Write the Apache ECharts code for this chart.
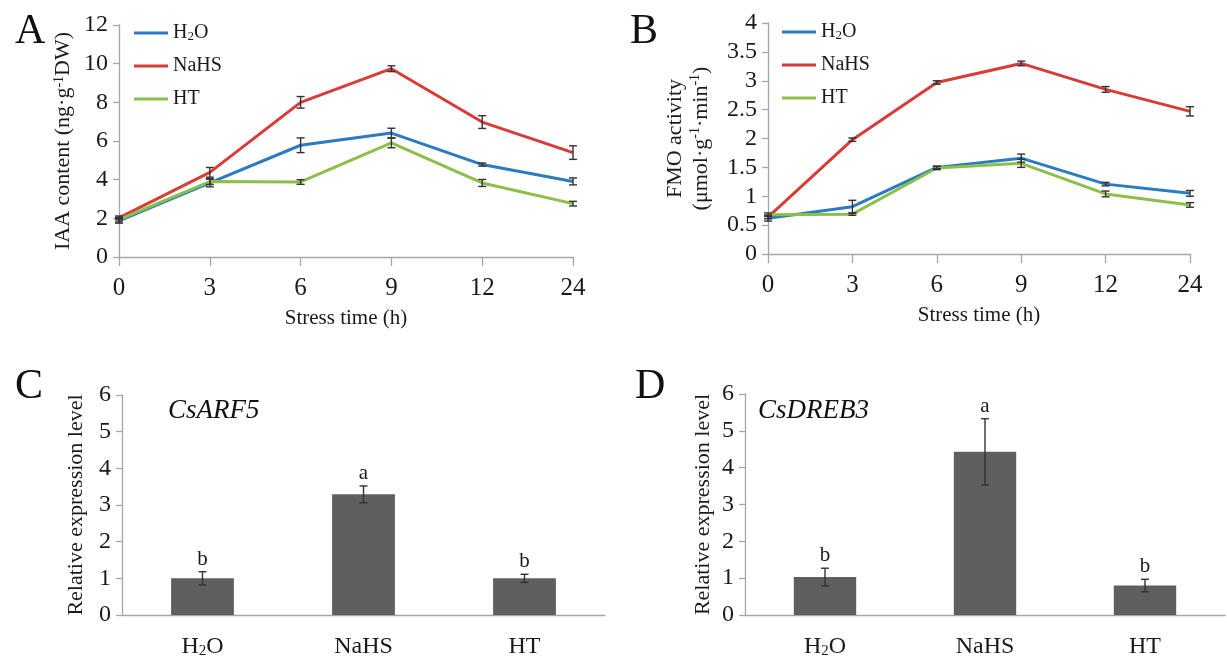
<!DOCTYPE html>
<html>
<head>
<meta charset="utf-8">
<script src="https://cdn.jsdelivr.net/npm/echarts@6/dist/echarts.min.js"></script>
<style>html,body{margin:0;padding:0;background:#fff}#c{width:1227px;height:659px}</style>
</head>
<body>
<div id="c"></div>
<script>
// ---- Data ----
const timeCats = ['0', '3', '6', '9', '12', '24'];
const seriesNames = ['H2O', 'NaHS', 'HT'];

const iaaH2O = [1.87, 3.83, 5.78, 6.41, 4.78, 3.91];
const iaaNaHS = [2.02, 4.38, 8.0, 9.74, 6.98, 5.4];
const iaaHT = [1.93, 3.9, 3.88, 5.9, 3.83, 2.76];
const iaaH2OErr = [0.12, 0.2, 0.38, 0.25, 0.08, 0.18];
const iaaNaHSErr = [0.1, 0.25, 0.3, 0.15, 0.33, 0.35];
const iaaHTErr = [0.12, 0.15, 0.12, 0.25, 0.18, 0.12];

const fmoH2O = [0.62, 0.82, 1.5, 1.66, 1.21, 1.05];
const fmoNaHS = [0.64, 1.98, 2.97, 3.3, 2.85, 2.47];
const fmoHT = [0.68, 0.69, 1.49, 1.57, 1.04, 0.85];
const fmoH2OErr = [0.05, 0.11, 0.02, 0.07, 0.03, 0.05];
const fmoNaHSErr = [0.03, 0.03, 0.03, 0.04, 0.05, 0.08];
const fmoHTErr = [0.03, 0.02, 0.03, 0.07, 0.05, 0.04];

const treatCats = ['H2O', 'NaHS', 'HT'];
const arf5Vals = [1.0, 3.29, 1.0];
const arf5Err = [0.18, 0.23, 0.11];
const arf5Letters = ['b', 'a', 'b'];
const dreb3Vals = [1.03, 4.43, 0.8];
const dreb3Err = [0.24, 0.9, 0.17];
const dreb3Letters = ['b', 'a', 'b'];

const iaaTicks = [0, 12, 2];
const fmoTicks = [0, 4, 0.5];
const relTicks = [0, 6, 1];

// ---- Styles ----
const FONT = 'Liberation Serif';
const TXT = '#1a1a1a';
const AXIS = '#a6a6a6';
const COLORS = {H2O: '#2a7bc1', NaHS: '#d93b36', HT: '#8cbf4a'};
const BAR = '#5f5f5f';
const ERR = '#333333';

const h2oRich = {
  n: {fontFamily: FONT, fontSize: 20, color: TXT},
  s: {fontFamily: FONT, fontSize: 13, color: TXT, verticalAlign: 'bottom', padding: [6, 0, 0, 0]}
};
const h2oRichBig = {
  n: {fontFamily: FONT, fontSize: 24, color: TXT},
  s: {fontFamily: FONT, fontSize: 15, color: TXT, verticalAlign: 'bottom', padding: [7, 0, 0, 0]}
};
function nameFmt(v) {
  return v === 'H2O' ? '{n|H}{s|2}{n|O}' : '{n|' + v + '}';
}
function numFmt(v) {
  return '{n|' + v + '}';
}
const numRich = {n: {fontFamily: FONT, fontSize: 24, color: TXT}};
const numRichX = {n: {fontFamily: FONT, fontSize: 25, color: TXT}};

function errorSeries(xi, yi, vals, errs, letters) {
  return {
    type: 'custom',
    xAxisIndex: xi, yAxisIndex: yi,
    z: 10, silent: true,
    data: vals.map((v, i) => [i, v, errs[i]]),
    renderItem: function (params, api) {
      const i = api.value(0), v = api.value(1), e = api.value(2);
      const top = api.coord([i, v + e]);
      const bot = api.coord([i, v - e]);
      const w = 4;
      const st = {stroke: ERR, lineWidth: 1.4};
      const children = [
        {type: 'line', shape: {x1: top[0], y1: top[1], x2: bot[0], y2: bot[1]}, style: st},
        {type: 'line', shape: {x1: top[0] - w, y1: top[1], x2: top[0] + w, y2: top[1]}, style: st},
        {type: 'line', shape: {x1: bot[0] - w, y1: bot[1], x2: bot[0] + w, y2: bot[1]}, style: st}
      ];
      if (letters) {
        children.push({type: 'text', x: top[0], y: top[1] - 2,
          style: {text: letters[params.dataIndex], fontFamily: FONT, fontSize: 21, fill: TXT,
            align: 'center', verticalAlign: 'bottom'}});
      }
      return {type: 'group', children: children};
    }
  };
}

function lineSeries(xi, yi, name, vals) {
  return {
    type: 'line', name: name, xAxisIndex: xi, yAxisIndex: yi,
    data: vals, symbol: 'none', showSymbol: false, z: 5,
    lineStyle: {color: COLORS[name], width: 3},
    itemStyle: {color: COLORS[name]}
  };
}

function yAxisCfg(gi, ticks, nameCfg) {
  return Object.assign({
    type: 'value', gridIndex: gi, min: ticks[0], max: ticks[1], interval: ticks[2],
    splitLine: {show: false},
    axisLine: {show: true, lineStyle: {color: AXIS, width: 1.3}},
    axisTick: {show: true, length: 6, lineStyle: {color: AXIS, width: 1.3}},
    axisLabel: {fontFamily: FONT, fontSize: 24, color: TXT, margin: 11, formatter: numFmt, rich: numRich},
    nameLocation: 'middle',
    nameTextStyle: {fontFamily: FONT, fontSize: 22, color: TXT}
  }, nameCfg);
}

function xTimeAxis(gi) {
  return {
    type: 'category', gridIndex: gi, data: timeCats, boundaryGap: false,
    axisLine: {lineStyle: {color: AXIS, width: 1.3}},
    axisTick: {length: 9, lineStyle: {color: AXIS, width: 1.3}},
    axisLabel: {fontFamily: FONT, fontSize: 25, color: TXT, margin: 19, interval: 0,
      formatter: numFmt, rich: numRichX},
    name: 'Stress time (h)', nameLocation: 'middle', nameGap: 51,
    nameTextStyle: {fontFamily: FONT, fontSize: 21, color: TXT}
  };
}

function xTreatAxis(gi) {
  return {
    type: 'category', gridIndex: gi, data: treatCats, boundaryGap: true,
    axisLine: {lineStyle: {color: AXIS, width: 1.3}},
    axisTick: {length: 9, alignWithLabel: false, interval: 0, lineStyle: {color: AXIS, width: 1.3}},
    axisLabel: {fontFamily: FONT, fontSize: 24, color: TXT, margin: 20, interval: 0,
      hideOverlap: false, formatter: nameFmt, rich: h2oRichBig}
  };
}

const supRich = {
  n: {fontFamily: FONT, fontSize: 22, color: TXT},
  u: {fontFamily: FONT, fontSize: 14, color: TXT, verticalAlign: 'top', padding: [0, 0, 8, 0]}
};

const legendCommon = {
  data: seriesNames, orient: 'vertical', itemWidth: 34, itemHeight: 3, itemGap: 13,
  icon: 'rect', formatter: nameFmt,
  textStyle: {rich: h2oRich, fontFamily: FONT, fontSize: 20, color: TXT},
  selectedMode: false
};

const option = {
  backgroundColor: '#fff',
  animation: false,
  textStyle: {fontFamily: FONT},
  title: [
    {text: 'A', left: 10, top: 6, textStyle: {fontFamily: FONT, fontSize: 42, fontWeight: 'normal', color: '#111'}},
    {text: 'B', left: 625, top: 6, textStyle: {fontFamily: FONT, fontSize: 42, fontWeight: 'normal', color: '#111'}},
    {text: 'C', left: 10, top: 361, textStyle: {fontFamily: FONT, fontSize: 42, fontWeight: 'normal', color: '#111'}},
    {text: 'D', left: 630, top: 361, textStyle: {fontFamily: FONT, fontSize: 42, fontWeight: 'normal', color: '#111'}},
    {text: 'CsARF5', left: 163, top: 392, textStyle: {fontFamily: FONT, fontSize: 27, fontStyle: 'italic', fontWeight: 'normal', color: '#111'}},
    {text: 'CsDREB3', left: 753, top: 392, textStyle: {fontFamily: FONT, fontSize: 27, fontStyle: 'italic', fontWeight: 'normal', color: '#111'}}
  ],
  legend: [
    Object.assign({left: 129, top: 18}, legendCommon),
    Object.assign({left: 777, top: 17}, legendCommon)
  ],
  grid: [
    {left: 119, right: 654, top: 25, bottom: 402},
    {left: 768, right: 37, top: 23, bottom: 405},
    {left: 122, right: 622, top: 395, bottom: 41},
    {left: 745, right: 2, top: 394, bottom: 42}
  ],
  xAxis: [xTimeAxis(0), xTimeAxis(1), xTreatAxis(2), xTreatAxis(3)],
  yAxis: [
    yAxisCfg(0, iaaTicks, {name: '{n|IAA content (ng·g}{u|-1}{n|DW)}', nameGap: 45,
      nameTextStyle: {rich: supRich}}),
    yAxisCfg(1, fmoTicks, {name: '{n|FMO activity}\n{n|(μmol·g}{u|-1}{n|·min}{u|-1}{n|)}', nameGap: 54,
      nameTextStyle: {rich: supRich, lineHeight: 26}}),
    yAxisCfg(2, relTicks, {name: 'Relative expression level', nameGap: 35}),
    yAxisCfg(3, relTicks, {name: 'Relative expression level', nameGap: 31})
  ],
  series: [
    lineSeries(0, 0, 'H2O', iaaH2O),
    lineSeries(0, 0, 'NaHS', iaaNaHS),
    lineSeries(0, 0, 'HT', iaaHT),
    errorSeries(0, 0, iaaH2O, iaaH2OErr),
    errorSeries(0, 0, iaaNaHS, iaaNaHSErr),
    errorSeries(0, 0, iaaHT, iaaHTErr),
    lineSeries(1, 1, 'H2O', fmoH2O),
    lineSeries(1, 1, 'NaHS', fmoNaHS),
    lineSeries(1, 1, 'HT', fmoHT),
    errorSeries(1, 1, fmoH2O, fmoH2OErr),
    errorSeries(1, 1, fmoNaHS, fmoNaHSErr),
    errorSeries(1, 1, fmoHT, fmoHTErr),
    {type: 'bar', xAxisIndex: 2, yAxisIndex: 2, data: arf5Vals, barWidth: '39%',
      itemStyle: {color: BAR}},
    errorSeries(2, 2, arf5Vals, arf5Err, arf5Letters),
    {type: 'bar', xAxisIndex: 3, yAxisIndex: 3, data: dreb3Vals, barWidth: '39%',
      itemStyle: {color: BAR}},
    errorSeries(3, 3, dreb3Vals, dreb3Err, dreb3Letters)
  ]
};
const chart = echarts.init(document.getElementById('c'), null, {renderer: 'canvas'});
chart.setOption(option);
</script>
</body>
</html>
